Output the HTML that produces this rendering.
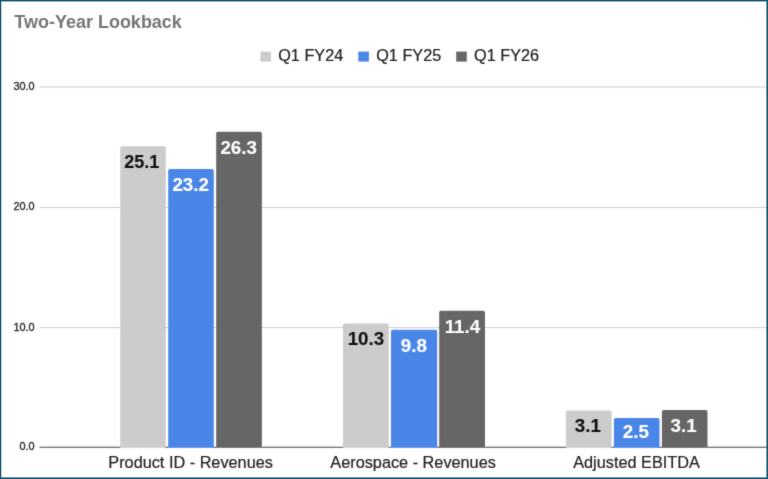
<!DOCTYPE html>
<html><head><meta charset="utf-8">
<style>
html,body{margin:0;padding:0;background:#fff;}
body{width:768px;height:479px;overflow:hidden;position:relative;font-family:"Liberation Sans",Arial,sans-serif;}
svg{position:absolute;left:0;top:0;display:block;}
text{font-family:"Liberation Sans",Arial,sans-serif;}
</style></head><body>
<svg width="768" height="479" viewBox="0 0 768 479">
<rect x="0" y="0" width="768" height="479" fill="#fff"/>
<defs><filter id="soft" x="0" y="0" width="768" height="479" filterUnits="userSpaceOnUse" color-interpolation-filters="sRGB"><feConvolveMatrix order="3" kernelMatrix="0.015 0.09 0.015 0.09 0.58 0.09 0.015 0.09 0.015" divisor="1" edgeMode="duplicate" preserveAlpha="true"/></filter></defs>
<g filter="url(#soft)">
<rect x="-5" y="-5" width="778" height="489" fill="#fff"/>
<!-- gridlines -->
<g fill="#cecece">
<rect x="39.6" y="86.5" width="728" height="1"/>
<rect x="39.6" y="207.0" width="728" height="1"/>
<rect x="39.6" y="327.1" width="728" height="1"/>
</g>
<!-- axis -->
<rect x="39.6" y="446.7" width="728" height="1.25" fill="#555"/>
<!-- bars -->
<g>
<rect x="120.2" y="146.2" width="45.6" height="305.8" fill="#cccccc" rx="1.8"/>
<rect x="168.2" y="169.0" width="45.6" height="283.0" fill="#4a86e8" rx="1.8"/>
<rect x="216.2" y="131.7" width="45.7" height="320.3" fill="#666666" rx="1.8"/>
<rect x="343.0" y="323.5" width="45.7" height="128.5" fill="#cccccc" rx="1.8"/>
<rect x="391.0" y="329.7" width="46.2" height="122.3" fill="#4a86e8" rx="1.8"/>
<rect x="439.2" y="310.8" width="45.8" height="141.2" fill="#666666" rx="1.8"/>
<rect x="565.9" y="410.5" width="45.7" height="41.5" fill="#cccccc" rx="1.8"/>
<rect x="613.9" y="417.9" width="45.6" height="34.1" fill="#4a86e8" rx="1.8"/>
<rect x="661.9" y="409.9" width="45.6" height="42.1" fill="#666666" rx="1.8"/>
</g>
<rect x="0" y="447.85" width="768" height="31.15" fill="#fff"/>
<!-- title -->
<g font-size="18" font-weight="bold" fill="#757575">
<text transform="translate(14.3,27.7) scale(1.0,1.07)" >Two-Year Lookback</text>
</g>
<!-- legend -->
<rect x="260.4" y="51.6" width="10.6" height="10" fill="#cccccc"/>
<rect x="358.3" y="51.6" width="10.6" height="10" fill="#4a86e8"/>
<rect x="456.2" y="51.6" width="10.6" height="10" fill="#666666"/>
<g font-size="15.7" fill="#222" stroke="#222" stroke-width="0.2">
<text transform="translate(278.2,60.8) scale(1.035,1.01)" >Q1 FY24</text>
<text transform="translate(376.2,60.8) scale(1.035,1.01)" >Q1 FY25</text>
<text transform="translate(474.1,60.8) scale(1.035,1.01)" >Q1 FY26</text>
</g>
<!-- y labels -->
<g font-size="10.9" fill="#2a2a2a" stroke="#2a2a2a" stroke-width="0.35" text-anchor="end">
<text transform="translate(34.6,90.0) scale(1.0,1.03)" >30.0</text>
<text transform="translate(34.6,210.35) scale(1.0,1.03)" >20.0</text>
<text transform="translate(34.6,330.7) scale(1.0,1.03)" >10.0</text>
<text transform="translate(34.6,450.45) scale(1.0,1.03)" >0.0</text>
</g>
<!-- data labels -->
<g font-size="17.4" font-weight="bold" text-anchor="middle">
<text transform="translate(141.8,168.2) scale(1.04,1.05)" fill="#111" stroke="#111" stroke-width="0.1">25.1</text>
<text transform="translate(190.7,190.7) scale(1.08,1.05)" fill="#fff" stroke="#fff" stroke-width="0.1">23.2</text>
<text transform="translate(238.7,153.8) scale(1.08,1.05)" fill="#fff" stroke="#fff" stroke-width="0.1">26.3</text>
<text transform="translate(365.9,345.3) scale(1.08,1.05)" fill="#111" stroke="#111" stroke-width="0.1">10.3</text>
<text transform="translate(413.8,352.0) scale(1.08,1.05)" fill="#fff" stroke="#fff" stroke-width="0.1">9.8</text>
<text transform="translate(462.4,333.1) scale(1.08,1.05)" fill="#fff" stroke="#fff" stroke-width="0.1">11.4</text>
<text transform="translate(587.8,432.4) scale(1.08,1.05)" fill="#111" stroke="#111" stroke-width="0.1">3.1</text>
<text transform="translate(635.9,437.8) scale(1.08,1.05)" fill="#fff" stroke="#fff" stroke-width="0.1">2.5</text>
<text transform="translate(683.6,431.7) scale(1.08,1.05)" fill="#fff" stroke="#fff" stroke-width="0.1">3.1</text>
</g>
<!-- x labels -->
<g font-size="16.2" fill="#222" stroke="#222" stroke-width="0.2" text-anchor="middle">
<text transform="translate(190.6,468.2) scale(1.005,1.03)" >Product ID - Revenues</text>
<text transform="translate(413.1,468.2) scale(1.005,1.03)" >Aerospace - Revenues</text>
<text transform="translate(636.5,468.2) scale(1.005,1.03)" >Adjusted EBITDA</text>
</g>
</g>
<!-- border -->
<rect x="0" y="0" width="768" height="1.45" fill="#185a78"/>
<rect x="0" y="0" width="1.3" height="479" fill="#185a78"/>
<rect x="766.4" y="0" width="1.6" height="479" fill="#185a78"/>
<rect x="0" y="477.4" width="768" height="1.6" fill="#185a78"/>
</svg>
</body></html>
